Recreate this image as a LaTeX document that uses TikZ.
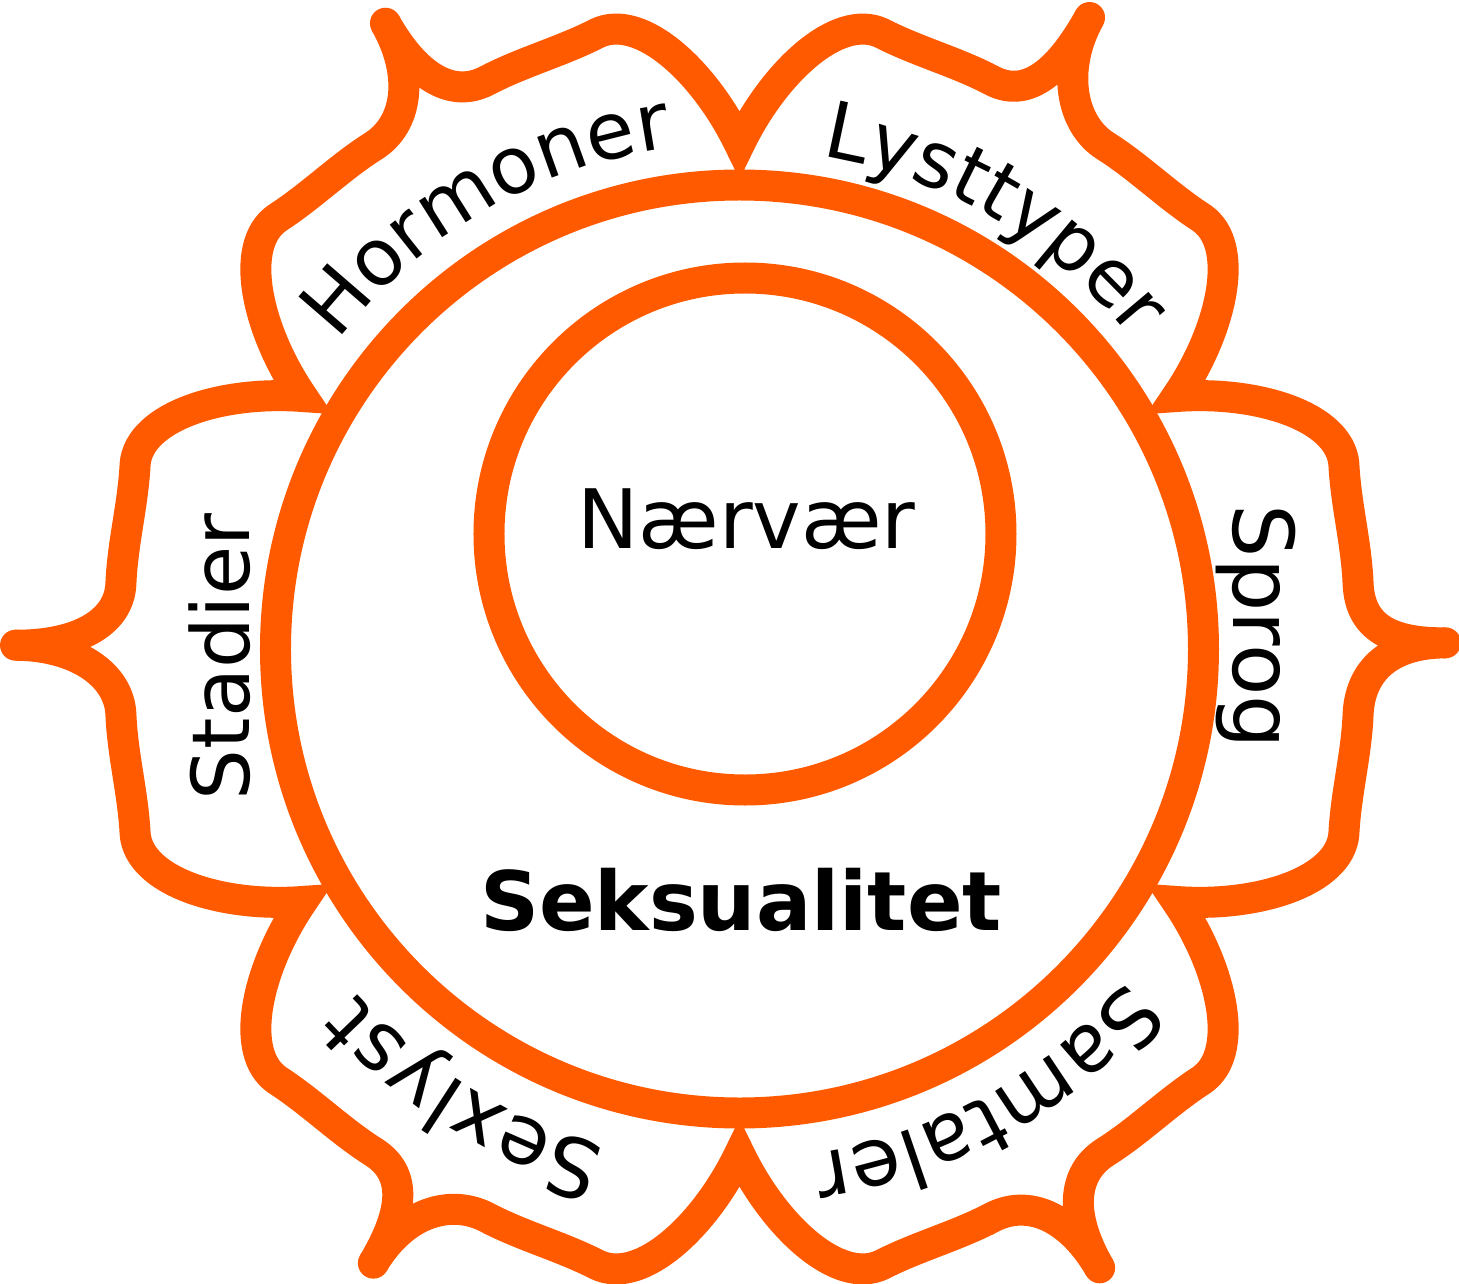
\documentclass[tikz,border=0pt]{standalone}
\usepackage{fontspec}
\setmainfont{DejaVu Sans}
\usetikzlibrary{decorations.text}
\definecolor{flor}{RGB}{255,90,0}
\begin{document}
\begin{tikzpicture}[x=1pt,y=1pt,
  ring/.style={draw=flor, line width=31pt},
  petal/.style={draw=flor, line width=31pt, line join=miter, miter limit=20},
  lbl/.style={font=\fontsize{80}{96}\selectfont, text=black, inner sep=0pt},
  arclbl/.style 2 args={decorate, decoration={text along path, text align=center, text={|\fontsize{#2}{#2}\selectfont|#1}}}]
\useasboundingbox (-739.5,-634) rectangle (719.5,649);
% petals outline
\draw[petal] (-30:505)
  \foreach \a/\tr/\d in {0/706/0.5,60/722/1,120/719/-0.5,180/724/-0.3,240/715/-0.8,300/716/0.2} {
    .. controls ({\a-26.55}:578.3) and ({\a-21.19}:644) .. ({\a-17}:632)
    .. controls ({\a-13.43}:623.4) and ({\a-9.66}:626) .. ({\a-6}:622)
    .. controls ({\a-2.31}:621.1) and ({\a+\d}:{\tr-60}) .. ({\a+\d}:\tr)
    .. controls ({\a+\d}:{\tr-60}) and ({\a+2.31}:621.1) .. ({\a+6}:622)
    .. controls ({\a+9.66}:626) and ({\a+13.43}:623.4) .. ({\a+17}:632)
    .. controls ({\a+21.19}:644) and ({\a+26.55}:578.3) .. ({\a+30}:505)
  } -- cycle;
\foreach \a/\tr/\d in {0/706/0.5,60/722/1,120/719/-0.5,180/724/-0.3,240/715/-0.8,300/716/0.2}
  \fill[flor] ({\a+\d}:\tr) circle[radius=15.5];
% circles
\draw[ring] (0,0) circle[radius=464];
\draw[ring] (5.5,115) circle[radius=256];
% center texts
\node[lbl, anchor=base, font=\fontsize{82}{98}\selectfont] (naervaer) at (7,101) {Nærvær};
\node[lbl, anchor=base, font=\fontsize{82}{98}\selectfont\bfseries] (seks) at (1.5,-281) {Seksualitet};
% straight petal texts
\node[lbl, anchor=base, rotate=90] (stadier) at (-489.5,-8) {Stadier};
\node[lbl, anchor=base, rotate=-90, font=\fontsize{84}{100}\selectfont] (sprog) at (493.5,22) {Sprog};
% curved petal texts
\path[arclbl={Hormoner}{79}] (160.1:506) arc[start angle=160.1, end angle=80.1, radius=506];
\path[arclbl={Lysttyper}{78.5}] (99.4:500) arc[start angle=99.4, end angle=19.4, radius=500];
\path[arclbl={Samtaler}{81}] (-21.1:510) arc[start angle=-21.1, end angle=-101.1, radius=510];
\path[arclbl={Sexlyst}{82}] (278.5:515) arc[start angle=278.5, end angle=198.5, radius=515];
\end{tikzpicture}
\end{document}
